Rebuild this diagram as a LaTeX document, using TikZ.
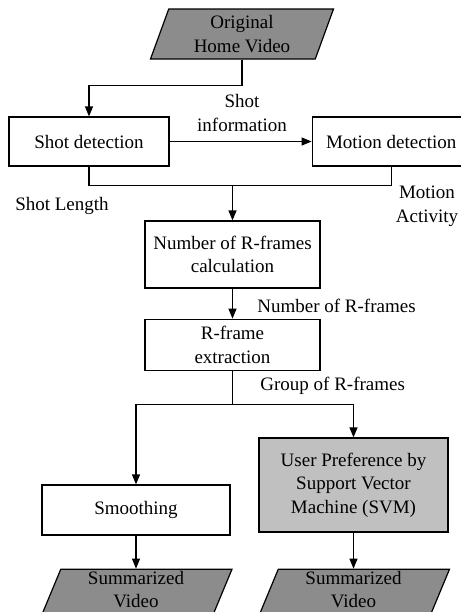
\documentclass[tikz,border=0pt]{standalone}
\usepackage{fontspec}
\setmainfont{Liberation Serif}
\usetikzlibrary{positioning,shapes.geometric,arrows.meta}
\definecolor{VideoGray}{RGB}{140,140,140}
\definecolor{SvmGray}{RGB}{192,192,192}
\tikzstyle{StepBox}=[rectangle, draw=black, fill=white, line width=0.6pt, align=center, inner sep=2pt]
\tikzstyle{GrayBox}=[StepBox, fill=SvmGray]
\tikzstyle{VideoData}=[trapezium, trapezium left angle=66, trapezium right angle=114, trapezium stretches body, draw=black, fill=VideoGray, line width=0.6pt, align=center, minimum height=25pt, inner sep=1pt]
\tikzstyle{OutVideo}=[VideoData, minimum width=96pt, inner ysep=0pt, text depth=5pt]
\tikzstyle{FlowArrow}=[-{Triangle[length=5pt,width=4pt]}, line width=0.6pt]
\tikzstyle{FlowLine}=[line width=0.6pt]
\tikzstyle{Tag}=[align=center, inner sep=1pt]

\begin{document}
\begin{tikzpicture}[font=\fontsize{9.5pt}{11.75pt}\selectfont]
			\useasboundingbox (0,0) rectangle (230.5pt,-306pt);

			%Nodes
			\node[VideoData, minimum width=91.5pt]	(video)		at (121pt,-17pt)		{Original\\Home Video};

			\node[StepBox, minimum width=80pt, minimum height=24.5pt]	(shotdet)	at (44.5pt,-70.75pt)	{Shot detection};
			\node[StepBox, minimum width=79pt, minimum height=24.5pt]	(motiondet)	[right=71pt of shotdet]	{Motion detection};

			\node[StepBox, minimum width=87.5pt, minimum height=33.5pt]	(numcalc)	at (116.25pt,-127.25pt)	{Number of R-frames\\calculation};
			\node[StepBox, minimum width=87.5pt, minimum height=25.5pt]	(rframe)	[below=15pt of numcalc]	{R-frame\\extraction};

			\node[StepBox, minimum width=94pt, minimum height=25pt]	(smooth)	at (68pt,-255pt)		{Smoothing};
			\node[GrayBox, minimum width=94.5pt, minimum height=47pt]	(svm)		at (176.75pt,-242.5pt)	{User Preference by\\Support Vector\\Machine (SVM)};

			\node[OutVideo]	(sum1)	[below=16.5pt of smooth]	{Summarized\\Video};
			\node[OutVideo]	(sum2)	[below=18pt of svm]		{Summarized\\Video};

			%Labels
			\node[Tag]	(shotinfo)	at (121pt,-56.5pt)	{Shot\\information};
			\node[Tag]	(shotlen)	at (31pt,-103pt)	{Shot Length};
			\node[Tag]	(motionact)	at (213.5pt,-103.25pt)	{Motion\\Activity};
			\node[Tag, anchor=west]	(numlabel)	at (127.5pt,-153pt)	{Number of R-frames};
			\node[Tag, anchor=west]	(grouplabel)	at (129pt,-193pt)	{Group of R-frames};

			%Lines
			\draw[FlowArrow] (video.south) -- ++(0,-13pt) -| (shotdet.north);
			\draw[FlowArrow] (shotdet.east) -- (motiondet.west);
			\draw[FlowLine] (shotdet.south) -- ++(0,-9.5pt) coordinate (join) -| (motiondet.south);
			\draw[FlowArrow] (join -| numcalc.north) -- (numcalc.north);
			\draw[FlowArrow] (numcalc.south) -- (rframe.north);
			\draw[FlowLine] (rframe.south) -- ++(0,-17pt) coordinate (split);
			\draw[FlowArrow] (split) -| (smooth.north);
			\draw[FlowArrow] (split) -| (svm.north);
			\draw[FlowArrow] (smooth.south) -- (sum1.north);
			\draw[FlowArrow] (svm.south) -- (sum2.north);

		\end{tikzpicture}
\end{document}
